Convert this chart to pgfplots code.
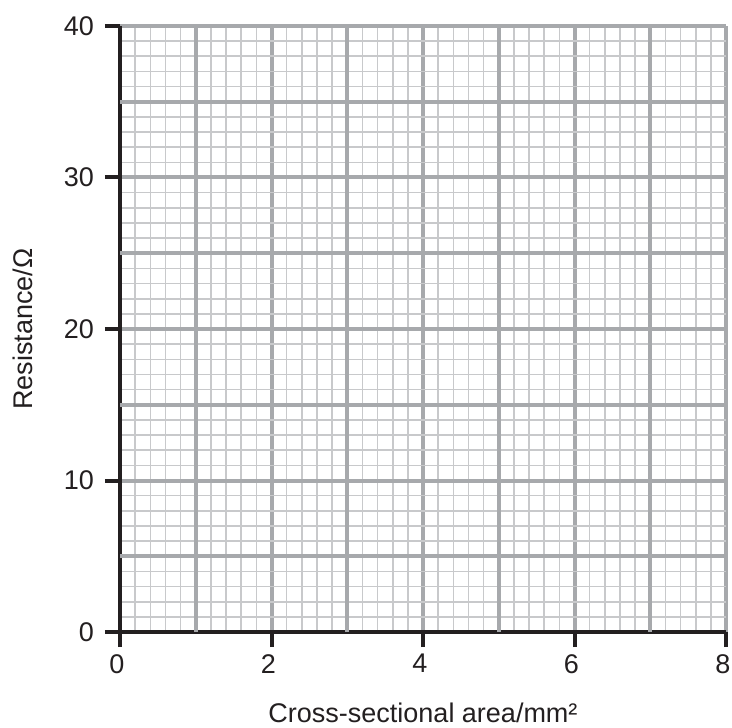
\documentclass[border=0pt]{standalone}
\usepackage{fontspec}
\setmainfont{Liberation Sans}
\usepackage{pgfplots}
\pgfplotsset{compat=1.18}
\definecolor{majgrid}{HTML}{A7A9AC}
\definecolor{mingrid}{HTML}{C8C9CB}
\definecolor{axblack}{HTML}{231F20}
\begin{document}
\begin{tikzpicture}
\begin{axis}[
  scale only axis,
  width=606bp, height=606bp,
  xmin=0, xmax=8, ymin=0, ymax=40,
  axis lines*=left,
  axis line style={line width=4bp, axblack},
  xtick={0,2,4,6,8},
  ytick={0,10,20,30,40},
  minor x tick num=9,
  minor y tick num=9,
  grid=both,
  major grid style={line width=4bp, majgrid},
  minor grid style={line width=1.6bp, mingrid},
  extra x ticks={1,3,5,7},
  extra y ticks={5,15,25,35},
  extra x tick labels={},
  extra y tick labels={},
  extra tick style={grid=major, major tick length=0pt, minor tick num=0},
  tick align=outside,
  major tick length=15bp,
  minor tick length=0pt,
  tick style={line width=4bp, axblack},
  /pgf/number format/assume math mode=true,
  tick label style={font=\fontsize{27bp}{31bp}\selectfont, text=axblack},
  xticklabel style={inner sep=2bp, yshift=-5bp, xshift=-3bp},
  yticklabel style={inner sep=2bp, xshift=-9bp},
  label style={font=\fontsize{27bp}{31bp}\selectfont, text=axblack},
  xlabel={Cross-sectional area/mm²},
  ylabel={Resistance/Ω},
  xlabel style={at={(axis description cs:0.5,-0.1485)}, anchor=base},
  ylabel style={at={(axis description cs:-0.1436,0.5)}, anchor=base, rotate=0},
]
\end{axis}
\pgfresetboundingbox
\path ([xshift=-120bp,yshift=-95bp]current axis.south west) rectangle ([xshift=6bp,yshift=26bp]current axis.north east);
\end{tikzpicture}
\end{document}
